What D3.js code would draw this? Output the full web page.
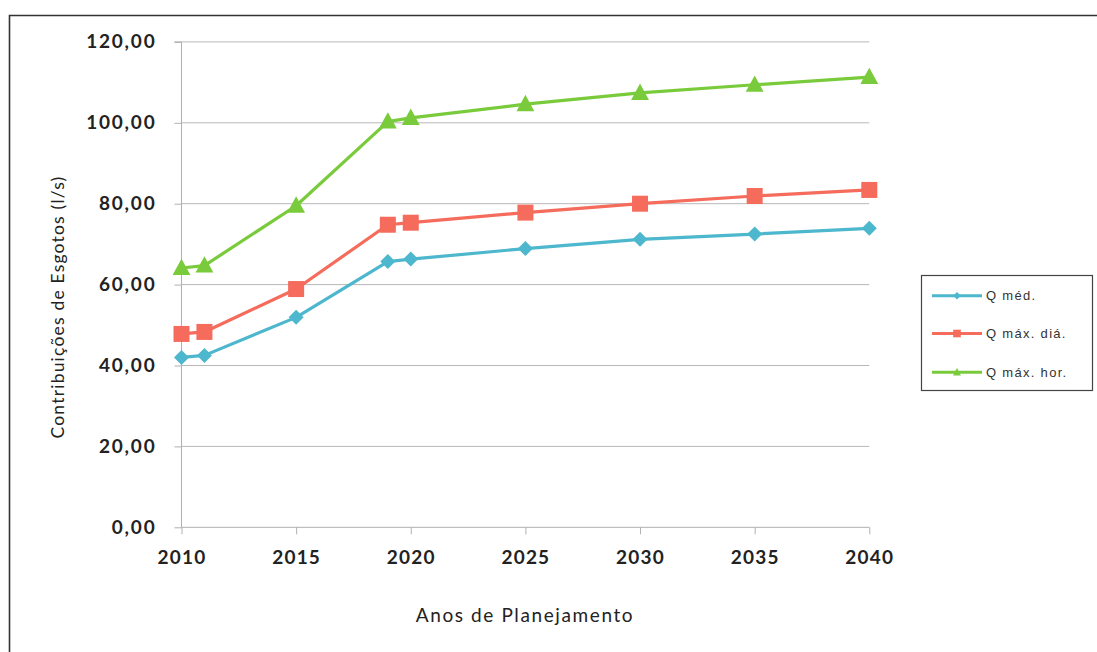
<!DOCTYPE html>
<html>
<head>
<meta charset="utf-8">
<script src="https://cdn.jsdelivr.net/npm/d3@7"></script>
<style>
  html, body { margin: 0; padding: 0; background: #ffffff; }
  svg { display: block; }
</style>
</head>
<body>
<svg id="chart" width="1097" height="652"></svg>
<script>
// Planning years (x) and sewage flow series (l/s)
const years = [2010, 2011, 2015, 2019, 2020, 2025, 2030, 2035, 2040];
const qMed    = [42.0, 42.5, 51.9, 65.7, 66.3, 68.9, 71.2, 72.5, 73.9];
const qMaxDia = [47.8, 48.3, 58.9, 74.8, 75.3, 77.8, 80.0, 81.9, 83.4];
const qMaxHor = [64.1, 64.7, 79.5, 100.3, 101.2, 104.6, 107.4, 109.4, 111.3];

const xTicks = [2010, 2015, 2020, 2025, 2030, 2035, 2040];
const yTicks = [0, 20, 40, 60, 80, 100, 120];

const seriesNames = ["Q méd.", "Q máx. diá.", "Q máx. hor."];
const seriesValues = [qMed, qMaxDia, qMaxHor];
const seriesColors = ["#4db7cd", "#f56b5c", "#79cb3b"];
const seriesMarkers = ["diamond", "square", "triangle"];

const svg = d3.select("#chart");
const fontFam = "Lato, 'Open Sans', sans-serif";

// outer frame of the chart area
svg.append("path")
  .attr("d", "M9.5,652 L9.5,15.5 L1097,15.5")
  .attr("fill", "none").attr("stroke", "#333").attr("stroke-width", 1.6);

const plot = { left: 181.5, right: 869.3, top: 41.9, bottom: 527.3 };

const x = d3.scaleLinear().domain([2010, 2040]).range([plot.left, plot.right]);
const y = d3.scaleLinear().domain([0, 120]).range([plot.bottom, plot.top]);

// horizontal gridlines
svg.append("g")
  .selectAll("line")
  .data(yTicks.filter(d => d > 0))
  .join("line")
  .attr("x1", plot.left).attr("x2", plot.right)
  .attr("y1", d => y(d)).attr("y2", d => y(d))
  .attr("stroke", "#b8b8b8").attr("stroke-width", 1);

// y axis
const yAxis = svg.append("g")
  .attr("transform", `translate(${plot.left},0)`)
  .call(d3.axisLeft(y).tickValues(yTicks).tickSize(7).tickPadding(18)
    .tickFormat(d => d3.format(".2f")(d).replace(".", ",")));
yAxis.select(".domain").attr("stroke", "#b0b0b0").attr("d", `M-7,${plot.top}H0V${plot.bottom}`);
yAxis.selectAll(".tick line").attr("stroke", "#b0b0b0");
yAxis.selectAll(".tick text")
  .attr("font-family", fontFam).attr("font-weight", "bold")
  .attr("font-size", 19).attr("letter-spacing", 1.8).attr("fill", "#222");

// x axis
const xAxis = svg.append("g")
  .attr("transform", `translate(0,${plot.bottom})`)
  .call(d3.axisBottom(x).tickValues(xTicks).tickSize(7).tickPadding(16)
    .tickFormat(d3.format("d")));
xAxis.select(".domain").attr("stroke", "#b0b0b0").attr("d", `M${plot.left},0H${plot.right}`);
xAxis.selectAll(".tick line").attr("stroke", "#b0b0b0");
xAxis.selectAll(".tick text")
  .attr("font-family", fontFam).attr("font-weight", "bold")
  .attr("font-size", 19).attr("letter-spacing", 1.2).attr("fill", "#222");

// axis titles
svg.append("text")
  .attr("x", 525).attr("y", 622)
  .attr("text-anchor", "middle")
  .attr("font-family", fontFam).attr("font-size", 19).attr("letter-spacing", 1.6)
  .attr("fill", "#222")
  .text("Anos de Planejamento");

svg.append("text")
  .attr("transform", "translate(64,307) rotate(-90)")
  .attr("text-anchor", "middle")
  .attr("font-family", fontFam).attr("font-size", 17.5).attr("letter-spacing", 1.2)
  .attr("fill", "#222")
  .text("Contribuições de Esgotos (l/s)");

// marker path generator
function markerPath(kind, s) {
  if (kind === "diamond") return `M0,${-s}L${s},0L0,${s}L${-s},0Z`;
  if (kind === "square") return `M${-s},${-s}H${s}V${s}H${-s}Z`;
  const h = s * 1.1;
  return `M0,${-h}L${s * 1.05},${h * 0.75}L${-s * 1.05},${h * 0.75}Z`;
}
const markerSize = { diamond: 7.5, square: 8, triangle: 8.5 };

const line = d3.line().x(d => x(d[0])).y(d => y(d[1]));

seriesValues.forEach((vals, i) => {
  const pts = years.map((yr, j) => [yr, vals[j]]);
  const g = svg.append("g");
  g.append("path")
    .datum(pts)
    .attr("d", line)
    .attr("fill", "none")
    .attr("stroke", seriesColors[i])
    .attr("stroke-width", 3.2)
    .attr("stroke-linejoin", "round");
  g.selectAll("path.mk")
    .data(pts)
    .join("path")
    .attr("class", "mk")
    .attr("transform", d => `translate(${x(d[0])},${y(d[1])})`)
    .attr("d", markerPath(seriesMarkers[i], markerSize[seriesMarkers[i]]))
    .attr("fill", seriesColors[i]);
});

// legend
const legend = svg.append("g");
legend.append("rect")
  .attr("x", 921.5).attr("y", 275.5).attr("width", 171).attr("height", 115)
  .attr("fill", "#fff").attr("stroke", "#444").attr("stroke-width", 1.2);

const legendRows = [295.7, 333.5, 372.3];
seriesNames.forEach((name, i) => {
  const ly = legendRows[i];
  legend.append("line")
    .attr("x1", 932).attr("x2", 982).attr("y1", ly).attr("y2", ly)
    .attr("stroke", seriesColors[i]).attr("stroke-width", 3);
  legend.append("path")
    .attr("transform", `translate(957,${ly})`)
    .attr("d", markerPath(seriesMarkers[i], 3.8))
    .attr("fill", seriesColors[i]);
  legend.append("text")
    .attr("x", 986).attr("y", ly + 4.5)
    .attr("font-family", "'Liberation Sans', Arial, sans-serif")
    .attr("font-size", 13).attr("letter-spacing", 1.3).attr("fill", "#333")
    .text(name);
});
</script>
</body>
</html>
